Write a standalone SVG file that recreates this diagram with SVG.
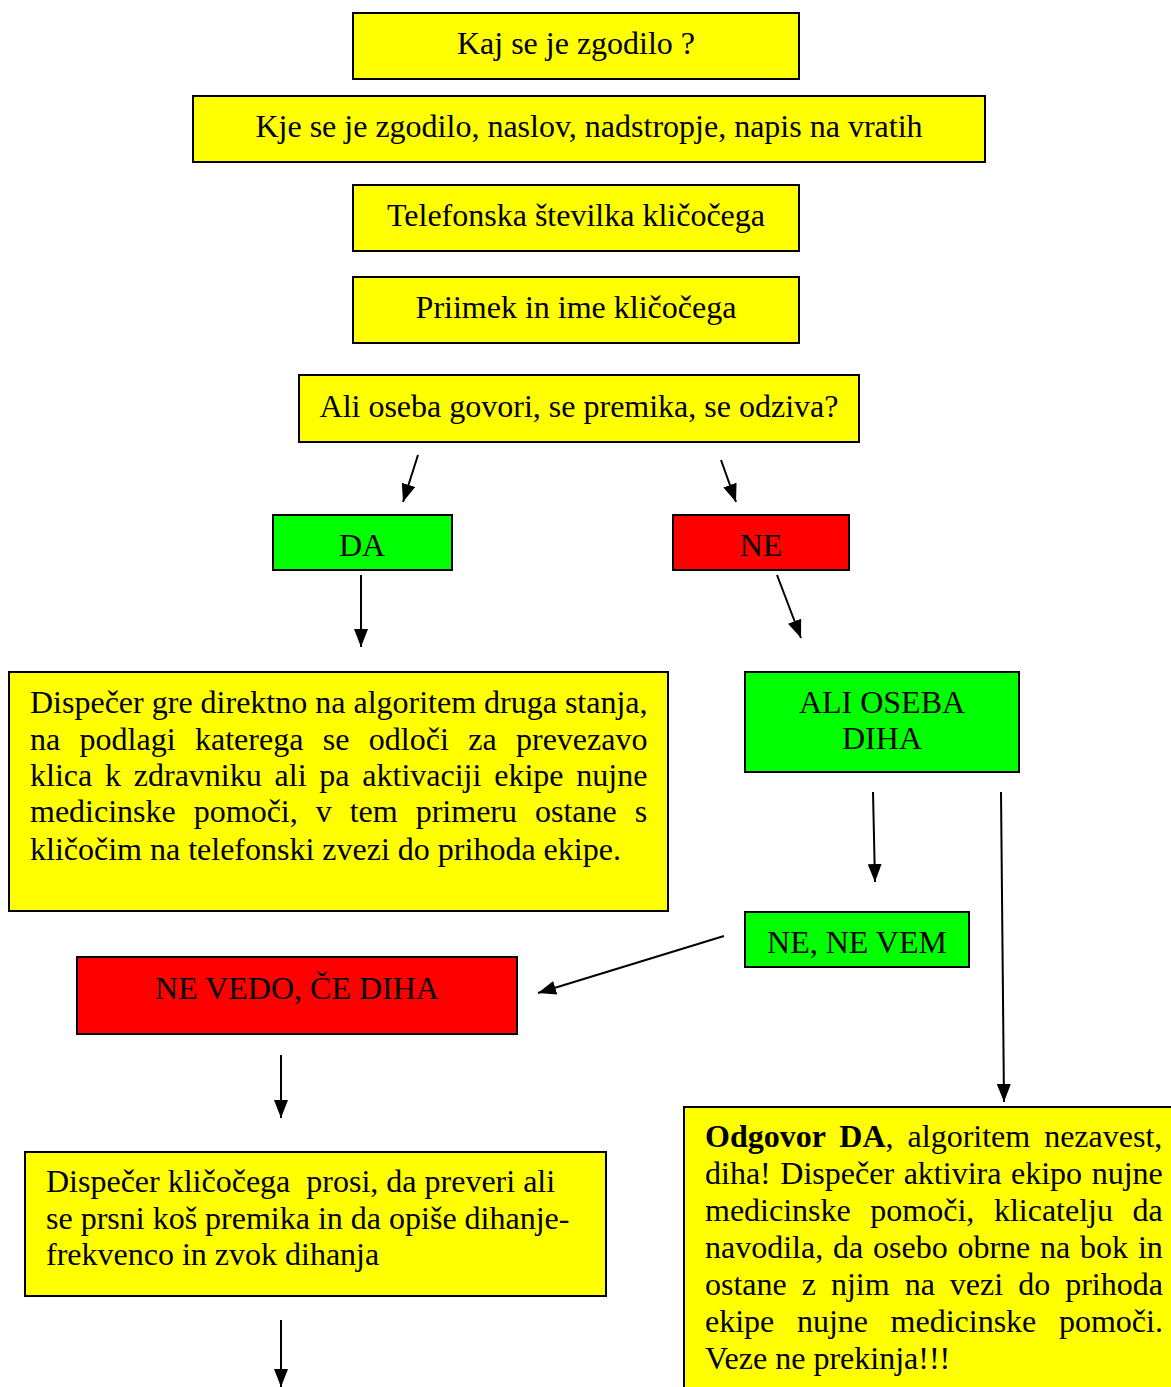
<svg xmlns="http://www.w3.org/2000/svg" width="1171" height="1387" viewBox="0 0 1171 1387">
<style>
rect{stroke:#000;stroke-width:2}
.y{fill:#ffff00}.g{fill:#00ff00}.r{fill:#ff0000}
text{font-family:"Liberation Serif","Times New Roman",serif;font-size:32px;fill:#000}
.c{text-anchor:middle}
.b{font-weight:bold}
line{stroke:#000;stroke-width:2;marker-end:url(#ah)}
</style>
<defs>
<marker id="ah" viewBox="0 0 18 14" refX="18" refY="7" markerWidth="18" markerHeight="14" markerUnits="userSpaceOnUse" orient="auto">
<path d="M0,0 L18,7 L0,14 Z" fill="#000"/>
</marker>
</defs>
<rect width="1171" height="1387" fill="#fff" style="stroke:none"/>
<g id="n1"><rect class="y" x="353" y="13" width="446" height="66"/><text class="c" x="576" y="54">Kaj se je zgodilo ?</text></g>
<g id="n2"><rect class="y" x="193" y="96" width="792" height="66"/><text class="c" x="589" y="137">Kje se je zgodilo, naslov, nadstropje, napis na vratih</text></g>
<g id="n3"><rect class="y" x="353" y="185" width="446" height="66"/><text class="c" x="576" y="226">Telefonska številka kličočega</text></g>
<g id="n4"><rect class="y" x="353" y="277" width="446" height="66"/><text class="c" x="576" y="318">Priimek in ime kličočega</text></g>
<g id="n5"><rect class="y" x="299" y="375" width="560" height="67"/><text class="c" x="579" y="417">Ali oseba govori, se premika, se odziva?</text></g>
<g id="n6"><rect class="g" x="273" y="515" width="179" height="55"/><text class="c" x="362" y="556">DA</text></g>
<g id="n7"><rect class="r" x="673" y="515" width="176" height="55"/><text class="c" x="761" y="556">NE</text></g>
<g id="n8"><rect class="y" x="9" y="672" width="659" height="239"/>
<text x="30" y="713">Dispečer gre direktno na algoritem druga stanja,</text>
<text x="30" y="750" word-spacing="11.4">na podlagi katerega se odloči za prevezavo</text>
<text x="30" y="786" word-spacing="4.8">klica k zdravniku ali pa aktivaciji ekipe nujne</text>
<text x="30" y="822" word-spacing="10">medicinske pomoči, v tem primeru ostane s</text>
<text x="30" y="860">kličočim na telefonski zvezi do prihoda ekipe.</text>
</g>
<g id="n9"><rect class="g" x="745" y="672" width="274" height="100"/><text class="c" x="882" y="713">ALI OSEBA</text><text class="c" x="882" y="749">DIHA</text></g>
<g id="n10"><rect class="g" x="745" y="912" width="224" height="55"/><text class="c" x="857" y="953">NE, NE VEM</text></g>
<g id="n11"><rect class="r" x="77" y="957" width="440" height="77"/><text class="c" x="297" y="999">NE VEDO, ČE DIHA</text></g>
<g id="n12"><rect class="y" x="25" y="1152" width="581" height="144"/>
<text x="46" y="1192" xml:space="preserve">Dispečer kličočega  prosi, da preveri ali</text>
<text x="46" y="1229">se prsni koš premika in da opiše dihanje-</text>
<text x="46" y="1265">frekvenco in zvok dihanja</text>
</g>
<g id="n13"><rect class="y" x="684" y="1107" width="500" height="290"/>
<text x="705" y="1147" word-spacing="6"><tspan class="b">Odgovor DA</tspan>, algoritem nezavest,</text>
<text x="705" y="1184" word-spacing="1.6">diha! Dispečer aktivira ekipo nujne</text>
<text x="705" y="1221" word-spacing="11.6">medicinske pomoči, klicatelju da</text>
<text x="705" y="1258" word-spacing="1.8">navodila, da osebo obrne na bok in</text>
<text x="705" y="1295" word-spacing="7">ostane z njim na vezi do prihoda</text>
<text x="705" y="1332" word-spacing="14.6">ekipe nujne medicinske pomoči.</text>
<text x="705" y="1369">Veze ne prekinja!!!</text>
</g>
<g id="connectors">
<line x1="418" y1="455" x2="403" y2="502"/>
<line x1="721" y1="460" x2="736" y2="502"/>
<line x1="361" y1="575" x2="361" y2="647"/>
<line x1="777" y1="575" x2="801" y2="638"/>
<line x1="873" y1="792" x2="875" y2="882"/>
<line x1="1001" y1="792" x2="1004" y2="1102"/>
<line x1="724" y1="936" x2="538" y2="993"/>
<line x1="281" y1="1055" x2="281" y2="1118"/>
<line x1="281" y1="1320" x2="281" y2="1387"/>
</g>
</svg>
